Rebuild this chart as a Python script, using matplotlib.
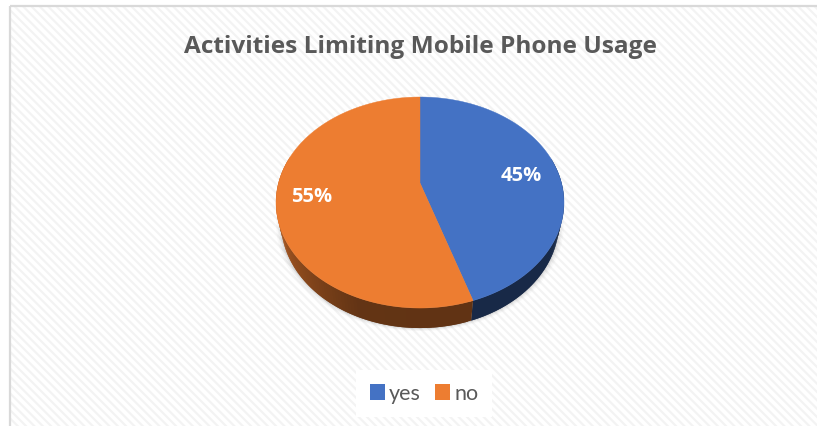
import numpy as np
import matplotlib
matplotlib.use("Agg")
import matplotlib.pyplot as plt
from matplotlib.patches import Rectangle, Polygon, Patch
from matplotlib.colors import to_rgb

categories = ["yes", "no"]
shares = [45, 55]
slice_colors = ["#4472C4", "#ED7D31"]
title = "Activities Limiting Mobile Phone Usage"

plt.rcParams["font.family"] = ["Lato", "DejaVu Sans"]
plt.rcParams["hatch.linewidth"] = 1.6

fig = plt.figure(figsize=(8.17, 4.27), dpi=100, facecolor="white")
ax = fig.add_axes([0, 0, 1, 1])
ax.set_xlim(0, 817)
ax.set_ylim(427, 0)
ax.axis("off")

# chart area: striped panel with a pale border, running off the right and bottom
ax.add_patch(Rectangle((10, 6.5), 830, 440, facecolor="white", edgecolor="#f3f3f3",
                       linewidth=0, hatch="\\\\\\\\", zorder=1))
ax.add_patch(Rectangle((10, 6.5), 830, 440, facecolor="none", edgecolor="#d9d9d9",
                       linewidth=1.6, zorder=1.1))

# tilted-disc projection of the unit circle
CX, APEX_Y, HALF_W, DEPTH_K, TILT, THICK = 420, 184, 141.5, 101.9, 0.185, 20
FLOOR_SCALE = 0.965


def project(u, v):
    d = 1 + TILT * v
    return CX + HALF_W * u / d, APEX_Y - DEPTH_K * v / d


def rim(t0, t1, n=240):
    t = np.linspace(t0, t1, n)
    return project(np.sin(t), np.cos(t))


def floor(xs, ys):
    return CX + (xs - CX) * FLOOR_SCALE, ys + THICK


# soft shadow under the disc
tt = np.linspace(0, 2 * np.pi, 361)
sx, sy = floor(*project(np.sin(tt), np.cos(tt)))
for grow, alpha in [(5, 0.04), (3.5, 0.06), (2, 0.08), (1, 0.10)]:
    ax.add_patch(Polygon(np.c_[CX + (sx - CX) * (1 + grow / 144), sy + grow * 0.6],
                         facecolor="#707070", edgecolor="none", alpha=alpha, zorder=2))

fractions = np.array(shares) / sum(shares)
edges = np.r_[0, np.cumsum(fractions)] * 2 * np.pi

# side wall, shaded strip by strip; each strip overlaps the next to hide seams
for color, t0, t1 in zip(slice_colors, edges[:-1], edges[1:]):
    base = np.array(to_rgb(color))
    steps = np.linspace(t0, t1, 160)
    step = steps[1] - steps[0]
    for a in steps[:-1]:
        mid = a + step / 2
        if np.cos(mid) > 0.25:
            continue
        xs, ys = rim(a, min(a + 2 * step, t1), 4)
        fx, fy = floor(xs, ys)
        if color == slice_colors[0]:
            shade = 0.36
        else:
            # brighter toward the left end of the wall, darkest near the front
            shade = np.interp(mid, [np.pi, 1.12 * np.pi, 1.4 * np.pi, 1.7 * np.pi],
                              [0.41, 0.42, 0.72, 0.78])
        ax.add_patch(Polygon(np.r_[np.c_[xs, ys], np.c_[fx[::-1], fy[::-1]]],
                             facecolor=base * shade, edgecolor="none", zorder=3))

# top face of the pie
for color, t0, t1 in zip(slice_colors, edges[:-1], edges[1:]):
    xs, ys = rim(t0, t1)
    ax.add_patch(Polygon(np.r_[[[CX, APEX_Y]], np.c_[xs, ys]], facecolor=color,
                         edgecolor=color, linewidth=0.3, zorder=4))

label_pos = [(521, 176), (312, 197)]
for share, (lx, ly) in zip(shares, label_pos):
    ax.text(lx, ly, f"{share}%", color="white", fontsize=14.5, fontweight="bold",
            family="Open Sans", ha="center", va="center", zorder=5)

ax.text(420, 47, title, color="#595959", fontsize=17.6, fontweight="bold",
        family="Open Sans", ha="center", va="center", zorder=5)

handles = [Patch(facecolor=c, edgecolor="none") for c in slice_colors]
leg = ax.legend(handles, categories, loc="center", bbox_to_anchor=(424, 394.5),
                bbox_transform=ax.transData, ncol=2, frameon=True, fontsize=15.5,
                labelcolor="#595959", handlelength=0.7, handleheight=0.7,
                handletextpad=0.2, columnspacing=0.65, borderpad=0.65, fancybox=False,
                borderaxespad=0)
leg.get_frame().set(facecolor="white", edgecolor="none", alpha=1)
leg.set_zorder(5)

fig.savefig("out.png", dpi=100)
